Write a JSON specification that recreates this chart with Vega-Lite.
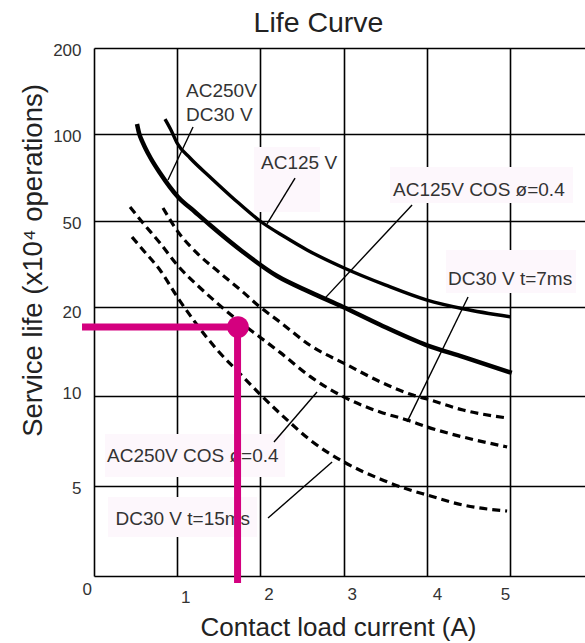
{
  "$schema": "https://vega.github.io/schema/vega-lite/v6.json",
  "width": 491,
  "height": 528,
  "autosize": {"type": "none"},
  "padding": {"left": 94, "top": 48, "right": 0, "bottom": 67},
  "background": "white",
  "config": {
    "view": {"stroke": null},
    "font": "Liberation Sans",
    "axis": {"grid": true, "gridColor": "#000", "gridWidth": 1.6, "gridOpacity": 1, "domain": false, "ticks": false}
  },
  "title": {"text": "Life Curve", "fontSize": 28.5, "fontWeight": "normal", "color": "#222", "font": "Liberation Sans", "anchor": "middle", "dx": -21, "offset": 4},
  "datasets": {
    "curves": [
      {"series": "AC125V", "x": 0.853, "y": 117.4}, {"series": "AC125V", "x": 0.925, "y": 104.7}, {"series": "AC125V", "x": 0.998, "y": 94.8}, {"series": "AC125V", "x": 1.154, "y": 86.2}, {"series": "AC125V", "x": 1.394, "y": 75.3}, {"series": "AC125V", "x": 1.695, "y": 62.1}, {"series": "AC125V", "x": 1.995, "y": 50.0}, {"series": "AC125V", "x": 2.296, "y": 44.4}, {"series": "AC125V", "x": 2.56, "y": 39.9}, {"series": "AC125V", "x": 3.005, "y": 33.6}, {"series": "AC125V", "x": 3.498, "y": 27.7}, {"series": "AC125V", "x": 4.002, "y": 22.4}, {"series": "AC125V", "x": 4.435, "y": 19.8}, {"series": "AC125V", "x": 5.0, "y": 18.9},
      {"series": "AC250V/DC30V", "x": 0.517, "y": 111.6}, {"series": "AC250V/DC30V", "x": 0.541, "y": 101.2}, {"series": "AC250V/DC30V", "x": 0.589, "y": 94.8}, {"series": "AC250V/DC30V", "x": 0.673, "y": 86.8}, {"series": "AC250V/DC30V", "x": 0.793, "y": 77.6}, {"series": "AC250V/DC30V", "x": 1.01, "y": 63.8}, {"series": "AC250V/DC30V", "x": 1.214, "y": 55.2}, {"series": "AC250V/DC30V", "x": 1.394, "y": 48.6}, {"series": "AC250V/DC30V", "x": 1.791, "y": 39.2}, {"series": "AC250V/DC30V", "x": 2.2, "y": 30.8}, {"series": "AC250V/DC30V", "x": 2.596, "y": 25.2}, {"series": "AC250V/DC30V", "x": 2.993, "y": 20.0}, {"series": "AC250V/DC30V", "x": 3.438, "y": 18.0}, {"series": "AC250V/DC30V", "x": 4.002, "y": 15.7}, {"series": "AC250V/DC30V", "x": 4.435, "y": 14.4}, {"series": "AC250V/DC30V", "x": 5.02, "y": 12.6},
      {"series": "AC125V COS 0.4", "x": 0.829, "y": 57.5}, {"series": "AC125V COS 0.4", "x": 1.01, "y": 46.2}, {"series": "AC125V COS 0.4", "x": 1.238, "y": 38.8}, {"series": "AC125V COS 0.4", "x": 1.514, "y": 31.9}, {"series": "AC125V COS 0.4", "x": 1.791, "y": 25.2}, {"series": "AC125V COS 0.4", "x": 1.995, "y": 20.0}, {"series": "AC125V COS 0.4", "x": 2.236, "y": 18.3}, {"series": "AC125V COS 0.4", "x": 2.596, "y": 15.7}, {"series": "AC125V COS 0.4", "x": 3.041, "y": 13.5}, {"series": "AC125V COS 0.4", "x": 3.438, "y": 11.6}, {"series": "AC125V COS 0.4", "x": 3.834, "y": 10.1}, {"series": "AC125V COS 0.4", "x": 4.002, "y": 9.83}, {"series": "AC125V COS 0.4", "x": 4.435, "y": 9.22}, {"series": "AC125V COS 0.4", "x": 4.964, "y": 8.78},
      {"series": "DC30V t=7ms", "x": 0.433, "y": 58.0}, {"series": "DC30V t=7ms", "x": 0.589, "y": 49.3}, {"series": "DC30V t=7ms", "x": 0.793, "y": 42.3}, {"series": "DC30V t=7ms", "x": 1.01, "y": 34.3}, {"series": "DC30V t=7ms", "x": 1.238, "y": 27.7}, {"series": "DC30V t=7ms", "x": 1.478, "y": 21.4}, {"series": "DC30V t=7ms", "x": 1.755, "y": 18.3}, {"series": "DC30V t=7ms", "x": 1.995, "y": 16.6}, {"series": "DC30V t=7ms", "x": 2.236, "y": 14.9}, {"series": "DC30V t=7ms", "x": 2.596, "y": 12.2}, {"series": "DC30V t=7ms", "x": 3.005, "y": 9.94}, {"series": "DC30V t=7ms", "x": 3.438, "y": 9.11}, {"series": "DC30V t=7ms", "x": 3.762, "y": 8.67}, {"series": "DC30V t=7ms", "x": 4.002, "y": 8.28}, {"series": "DC30V t=7ms", "x": 4.435, "y": 7.72}, {"series": "DC30V t=7ms", "x": 4.964, "y": 7.17},
      {"series": "DC30V t=15ms", "x": 0.457, "y": 44.4}, {"series": "DC30V t=15ms", "x": 0.589, "y": 39.9}, {"series": "DC30V t=15ms", "x": 0.793, "y": 32.9}, {"series": "DC30V t=15ms", "x": 1.01, "y": 23.1}, {"series": "DC30V t=15ms", "x": 1.238, "y": 18.0}, {"series": "DC30V t=15ms", "x": 1.478, "y": 15.2}, {"series": "DC30V t=15ms", "x": 1.755, "y": 12.5}, {"series": "DC30V t=15ms", "x": 1.995, "y": 10.2}, {"series": "DC30V t=15ms", "x": 2.32, "y": 8.67}, {"series": "DC30V t=15ms", "x": 2.596, "y": 7.56}, {"series": "DC30V t=15ms", "x": 3.005, "y": 6.33}, {"series": "DC30V t=15ms", "x": 3.438, "y": 5.39}, {"series": "DC30V t=15ms", "x": 3.762, "y": 4.83}, {"series": "DC30V t=15ms", "x": 4.002, "y": 4.5}, {"series": "DC30V t=15ms", "x": 4.435, "y": 3.94}, {"series": "DC30V t=15ms", "x": 4.964, "y": 3.61}
    ],
    "leaders": [
      {"x": 1.19, "y": 108.1, "x2": 0.889, "y2": 73.6},
      {"x": 2.416, "y": 74.7, "x2": 2.079, "y2": 49.0},
      {"x": 3.822, "y": 59.2, "x2": 2.776, "y2": 23.1},
      {"x": 4.495, "y": 23.5, "x2": 3.762, "y2": 8.56},
      {"x": 2.163, "y": 7.44, "x2": 2.68, "y2": 10.45},
      {"x": 2.091, "y": 3.22, "x2": 2.861, "y2": 6.33}
    ],
    "boxes": [
      {"x": 1.923, "x2": 2.716, "y": 92.5, "y2": 55.2},
      {"x": 3.558, "x2": 5.757, "y": 81.0, "y2": 60.3},
      {"x": 4.231, "x2": 5.793, "y": 39.9, "y2": 24.9},
      {"x": 0.132, "x2": 2.296, "y": 7.89, "y2": 5.5},
      {"x": 0.168, "x2": 1.959, "y": 4.39, "y2": 2.17}
    ],
    "labels": [
      {"text": "AC250V", "x": 1.106, "y": 150},
      {"text": "DC30 V", "x": 1.106, "y": 122.1},
      {"text": "AC125 V", "x": 2.007, "y": 83.3},
      {"text": "AC125V COS ø=0.4", "x": 3.594, "y": 67.8},
      {"text": "DC30 V t=7ms", "x": 4.255, "y": 29.8},
      {"text": "AC250V COS ø=0.4", "x": 0.156, "y": 6.67},
      {"text": "DC30 V t=15ms", "x": 0.258, "y": 3.17}
    ],
    "guide": [
      {"x": -0.144, "x2": 1.725, "y": 17.75, "y2": 17.75},
      {"x": 1.725, "x2": 1.725, "y": 17.75, "y2": -0.39}
    ],
    "dot": [{"x": 1.73, "y": 17.75}]
  },
  "encoding": {
    "x": {"field": "x", "type": "quantitative",
      "scale": {"domain": [0, 5.9], "nice": false, "zero": false},
      "axis": {"values": [0, 1, 2, 3, 4, 5], "title": "Contact load current (A)", "titleFontSize": 26, "titleFontWeight": "normal", "titleColor": "#222", "titleX": 244, "titleY": 59, "titleBaseline": "alphabetic", "titleAnchor": "middle",
        "labelFontSize": 17, "labelColor": "#333", "labelBaseline": "top",
        "labelPadding": {"condition": [{"test": "datum.value == 0", "value": 5}, {"test": "datum.value == 1", "value": 13}], "value": 10},
        "labelOffset": {"condition": [{"test": "datum.value == 0", "value": -12}, {"test": "datum.value == 5", "value": -5}, {"test": "datum.value == 4", "value": 10}], "value": 8}}},
    "y": {"field": "y", "type": "quantitative",
      "scale": {"domain": [0, 5, 10, 20, 50, 100, 200], "range": [528, 438, 348, 259, 173, 86, 0], "nice": false, "zero": false},
      "axis": {"values": [0, 5, 10, 20, 50, 100, 200], "labelExpr": "datum.value == 0 ? '' : datum.label", "title": "Service life (x10⁴ operations)", "titleFontSize": 27.5, "titleFontWeight": "normal", "titleColor": "#222", "titleX": -61, "titleY": 212, "titleAngle": -90, "titleBaseline": "middle", "titleAlign": "center",
        "labelFontSize": 17, "labelColor": "#333", "labelPadding": 13, "labelBaseline": "middle",
        "labelOffset": {"condition": [{"test": "datum.value == 20", "value": 5}, {"test": "datum.value == 10", "value": -3}], "value": 2}}}
  },
  "layer": [
    {"data": {"name": "boxes"}, "mark": {"type": "rect", "fill": "#fdf7fc"},
      "encoding": {"x2": {"field": "x2"}, "y2": {"field": "y2"}}},
    {"data": {"name": "curves"}, "transform": [{"filter": "datum.series == 'AC125V'"}],
      "mark": {"type": "line", "color": "#000", "strokeWidth": 3.4, "interpolate": "monotone", "strokeCap": "butt"},
      "encoding": {"detail": {"field": "series"}}},
    {"data": {"name": "curves"}, "transform": [{"filter": "datum.series == 'AC250V/DC30V'"}],
      "mark": {"type": "line", "color": "#000", "strokeWidth": 4.5, "interpolate": "monotone", "strokeCap": "butt"},
      "encoding": {"detail": {"field": "series"}}},
    {"data": {"name": "curves"}, "transform": [{"filter": "datum.series != 'AC125V' && datum.series != 'AC250V/DC30V'"}],
      "mark": {"type": "line", "color": "#000", "strokeWidth": 3.2, "strokeDash": [8, 5], "interpolate": "monotone"},
      "encoding": {"detail": {"field": "series"}}},
    {"data": {"name": "leaders"}, "mark": {"type": "rule", "color": "#000", "strokeWidth": 1.4},
      "encoding": {"x2": {"field": "x2"}, "y2": {"field": "y2"}}},
    {"data": {"name": "labels"}, "mark": {"type": "text", "align": "left", "baseline": "middle", "fontSize": 19, "color": "#333", "font": "Liberation Sans"},
      "encoding": {"text": {"field": "text"}}},
    {"data": {"name": "guide"}, "mark": {"type": "rule", "color": "#d4007f", "strokeWidth": 7, "strokeCap": "butt"},
      "encoding": {"x2": {"field": "x2"}, "y2": {"field": "y2"}}},
    {"data": {"name": "dot"}, "mark": {"type": "point", "shape": "circle", "filled": true, "color": "#d4007f", "size": 470, "opacity": 1}}
  ]
}
